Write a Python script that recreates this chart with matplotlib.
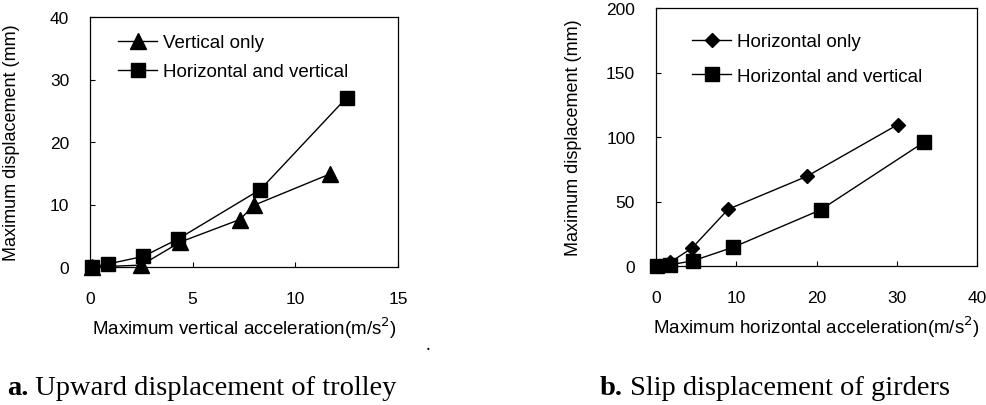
import matplotlib
matplotlib.use("Agg")
import matplotlib.pyplot as plt

# panel a: upward displacement of trolley
a_vert_x = [0.1, 2.5, 4.4, 7.3, 8.0, 11.7]
a_vert_y = [0.0, 0.3, 4.0, 7.6, 9.9, 14.9]
a_hv_x = [0.1, 0.9, 2.6, 4.3, 8.3, 12.5]
a_hv_y = [0.0, 0.5, 1.7, 4.5, 12.4, 27.1]

# panel b: slip displacement of girders
b_hor_x = [0.1, 1.8, 4.5, 9.0, 18.8, 30.1]
b_hor_y = [0.0, 3.0, 14.0, 44.0, 69.5, 109.5]
b_hv_x = [0.1, 1.8, 4.6, 9.6, 20.5, 33.4]
b_hv_y = [0.0, 1.0, 4.0, 14.5, 43.5, 96.0]

sans = "Liberation Sans"
serif = "Liberation Serif"

fig = plt.figure(figsize=(9.87, 4.06), dpi=100)
ax1 = fig.add_axes([90/987, 138/406, 308/987, 250/406])
ax2 = fig.add_axes([656/987, 139/406, 321/987, 258/406])

ax1.plot(a_vert_x, a_vert_y, color="black", lw=1, marker="^", ms=12, label="Vertical only")
ax1.plot(a_hv_x, a_hv_y, color="black", lw=1, marker="s", ms=10.5, label="Horizontal and vertical")
ax1.set_xlim(0, 15)
ax1.set_ylim(0, 40)
ax1.set_xticks([0, 5, 10, 15])
ax1.set_yticks([0, 10, 20, 30, 40])
ax1.set_xlabel("Maximum vertical acceleration(m/s$^2$)", family=sans, fontsize=13.5)
ax1.set_ylabel("Maximum displacement (mm)", family=sans, fontsize=13)
ax1.xaxis.set_label_coords(0.5, -0.19)
ax1.yaxis.set_label_coords(-0.228, 0.5)

ax2.plot(b_hor_x, b_hor_y, color="black", lw=1, marker="D", ms=7, label="Horizontal only")
ax2.plot(b_hv_x, b_hv_y, color="black", lw=1, marker="s", ms=10.5, label="Horizontal and vertical")
ax2.set_xlim(0, 40)
ax2.set_ylim(0, 200)
ax2.set_xticks([0, 10, 20, 30, 40])
ax2.set_yticks([0, 50, 100, 150, 200])
ax2.set_xlabel("Maximum horizontal acceleration(m/s$^2$)", family=sans, fontsize=13.5)
ax2.set_ylabel("Maximum displacement (mm)", family=sans, fontsize=13)
ax2.xaxis.set_label_coords(0.5, -0.186)
ax2.yaxis.set_label_coords(-0.23, 0.5)

legend_spots = {ax1: ((0.091, 0.932), 0.65), ax2: ((0.112, 0.903), 0.92)}

for ax in (ax1, ax2):
    ax.tick_params(axis="x", direction="in", length=3.5, width=0.8, labelsize=12.5, pad=17.5)
    ax.tick_params(axis="y", direction="in", length=3.5, width=0.8, labelsize=12.5, pad=15)
    for lab in ax.get_xticklabels() + ax.get_yticklabels():
        lab.set_family(sans)
    for s in ax.spines.values():
        s.set_linewidth(0.9)
    for ln in ax.get_lines():
        ln.set_clip_on(False)
    anchor, spacing = legend_spots[ax]
    ax.legend(loc="upper left", bbox_to_anchor=anchor, frameon=False,
              prop={"family": sans, "size": 13.5}, handlelength=2.1,
              handletextpad=0.32, labelspacing=spacing,
              borderpad=0, borderaxespad=0)

fig.text(428/987, 1 - 350/406, ".", family=serif, fontsize=14, ha="center")

# captions: bold panel letter, then regular text right after it
renderer = fig.canvas.get_renderer()
for x0, letter, caption in [(7, "a.", " Upward displacement of trolley"),
                            (600, "b.", " Slip displacement of girders")]:
    t = fig.text(x0/987, 1 - 389/406, letter, family=serif, fontsize=20.5,
                 weight="bold", va="center")
    bb = t.get_window_extent(renderer)
    fig.text(bb.x1/987, 1 - 389/406, caption, family=serif, fontsize=20.5, va="center")

fig.savefig("out.png", dpi=100)
